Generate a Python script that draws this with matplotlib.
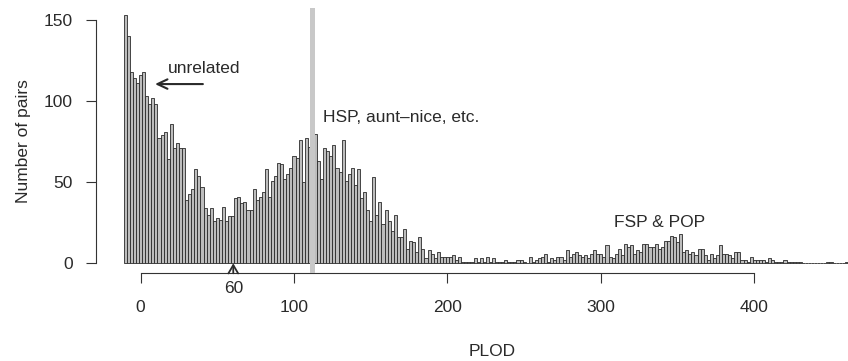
import numpy as np
import matplotlib
matplotlib.use('Agg')
import matplotlib.pyplot as plt

# ============================================================================
# PODACI - histogram PLOD vrijednosti (sirina razreda 2, pocetak -11)
# ============================================================================

pocetak_razreda = -11
sirina_razreda = 2

broj_parova = [
    153, 140, 118, 114, 111, 116, 118, 103, 98, 102, 98, 77, 79, 81, 64, 86, 71, 74, 71, 71,
    39, 43, 46, 58, 54, 47, 34, 30, 34, 26, 28, 27, 35, 26, 29, 29,
    40, 41, 37, 38, 33, 33, 46, 39, 41, 44, 58, 41, 51, 54, 62, 61, 52, 55, 59, 66, 65, 76, 50, 77,
    72, 74,
    80, 63, 52, 71, 69, 66, 73, 59, 56, 76, 51, 55, 59,
    48, 58, 40, 44, 33, 26, 53, 30, 38, 24, 33, 26, 20, 30, 16, 16, 21, 9, 14, 13,
    7, 16, 9, 3, 8, 6, 3, 7, 4, 4, 4, 4, 5, 2, 4, 1, 1, 1,
    1, 3, 1, 3, 1, 4, 1, 3, 1, 1, 1, 2, 1, 1, 1, 2, 2, 1, 0, 4,
    1, 2, 3, 4, 6, 1, 3, 2, 4, 4, 2, 8, 4, 6, 7, 5, 4, 5,
    3, 6, 8, 6, 6, 4, 11, 4, 3, 6, 9, 5, 12, 10, 11, 6, 8, 7, 12, 12,
    10, 10, 12, 9, 10, 14, 14, 17, 16, 13, 18, 7, 8, 6, 7, 5, 9, 9, 5,
    2, 6, 3, 5, 11, 6, 6, 5, 3, 7,
    7, 2, 2, 1, 4, 2, 2, 2, 2, 1,
    3, 2, 1, 1, 1, 2, 1, 1, 1, 1,
    1, 0, 0, 0, 0, 0, 0, 0, 0, 1,
    1, 0, 0, 0, 0, 1,
]

x_oznake = [0, 100, 200, 300, 400]
y_oznake = [0, 50, 100, 150]
granica_hsp = 111.6

# ============================================================================
# SLIKA
# ============================================================================

plt.rcParams['font.family'] = ['Liberation Sans', 'DejaVu Sans']
plt.rcParams['font.size'] = 12.5
boja_teksta = '#2a2a2a'
boja_osi = '#333333'

lijevi_rubovi = pocetak_razreda + sirina_razreda * np.arange(len(broj_parova))

fig = plt.figure(figsize=(8.48, 3.61), dpi=100)
ax = fig.add_axes([96 / 848, (361 - 273.3) / 361, (889 - 96) / 848, (273.3 - 8) / 361])

ax.bar(lijevi_rubovi, broj_parova, width=sirina_razreda, align='edge',
       color='#bdbdbd', edgecolor='#2a2a2a', linewidth=0.6, zorder=2)

# siva okomita linija
ax.axvline(granica_hsp, color='#c8c8c8', linewidth=3.6, zorder=3)

ax.set_xlim(-29.07, 487.8)
ax.set_ylim(-6.17, 157.4)

# R stil osi
for strana in ['top', 'right']:
    ax.spines[strana].set_visible(False)
ax.spines['left'].set_bounds(0, 150)
ax.spines['bottom'].set_bounds(0, 400)
for strana in ['left', 'bottom']:
    ax.spines[strana].set_color(boja_osi)
    ax.spines[strana].set_linewidth(0.8)

ax.set_xticks(x_oznake)
ax.set_yticks(y_oznake)
ax.tick_params(axis='both', direction='out', length=7.2, width=0.8,
               color=boja_osi, labelcolor=boja_teksta)
ax.tick_params(axis='x', pad=12)
ax.tick_params(axis='y', pad=9.6)

ax.set_xlabel('PLOD', color=boja_teksta, labelpad=21)
ax.set_ylabel('Number of pairs', color=boja_teksta, labelpad=9)

# oznaka 60 sa strelicom
ax.annotate('', xy=(60.4, 0), xytext=(60.4, -6.17), annotation_clip=False,
            arrowprops=dict(arrowstyle='->,head_length=0.6,head_width=0.35',
                            mutation_scale=10, lw=1.3, color=boja_teksta,
                            shrinkA=0, shrinkB=0))
ax.text(60.4, -18.5, '60', ha='center', va='baseline', color=boja_teksta, clip_on=False)

# natpisi
ax.annotate('', xy=(9.4, 110.5), xytext=(40.6, 110.5),
            arrowprops=dict(arrowstyle='->,head_length=0.72,head_width=0.34',
                            mutation_scale=10, lw=1.5, color=boja_teksta,
                            shrinkA=0, shrinkB=0))
ax.text(41.7, 117.3, 'unrelated', ha='center', va='baseline', color=boja_teksta)
ax.text(118.9, 87.1, 'HSP, aunt\u2013nice, etc.', ha='left', va='baseline', color=boja_teksta)
ax.text(338.5, 22.2, 'FSP & POP', ha='center', va='baseline', color=boja_teksta)

plt.savefig('out.png', dpi=100)
plt.close(fig)
